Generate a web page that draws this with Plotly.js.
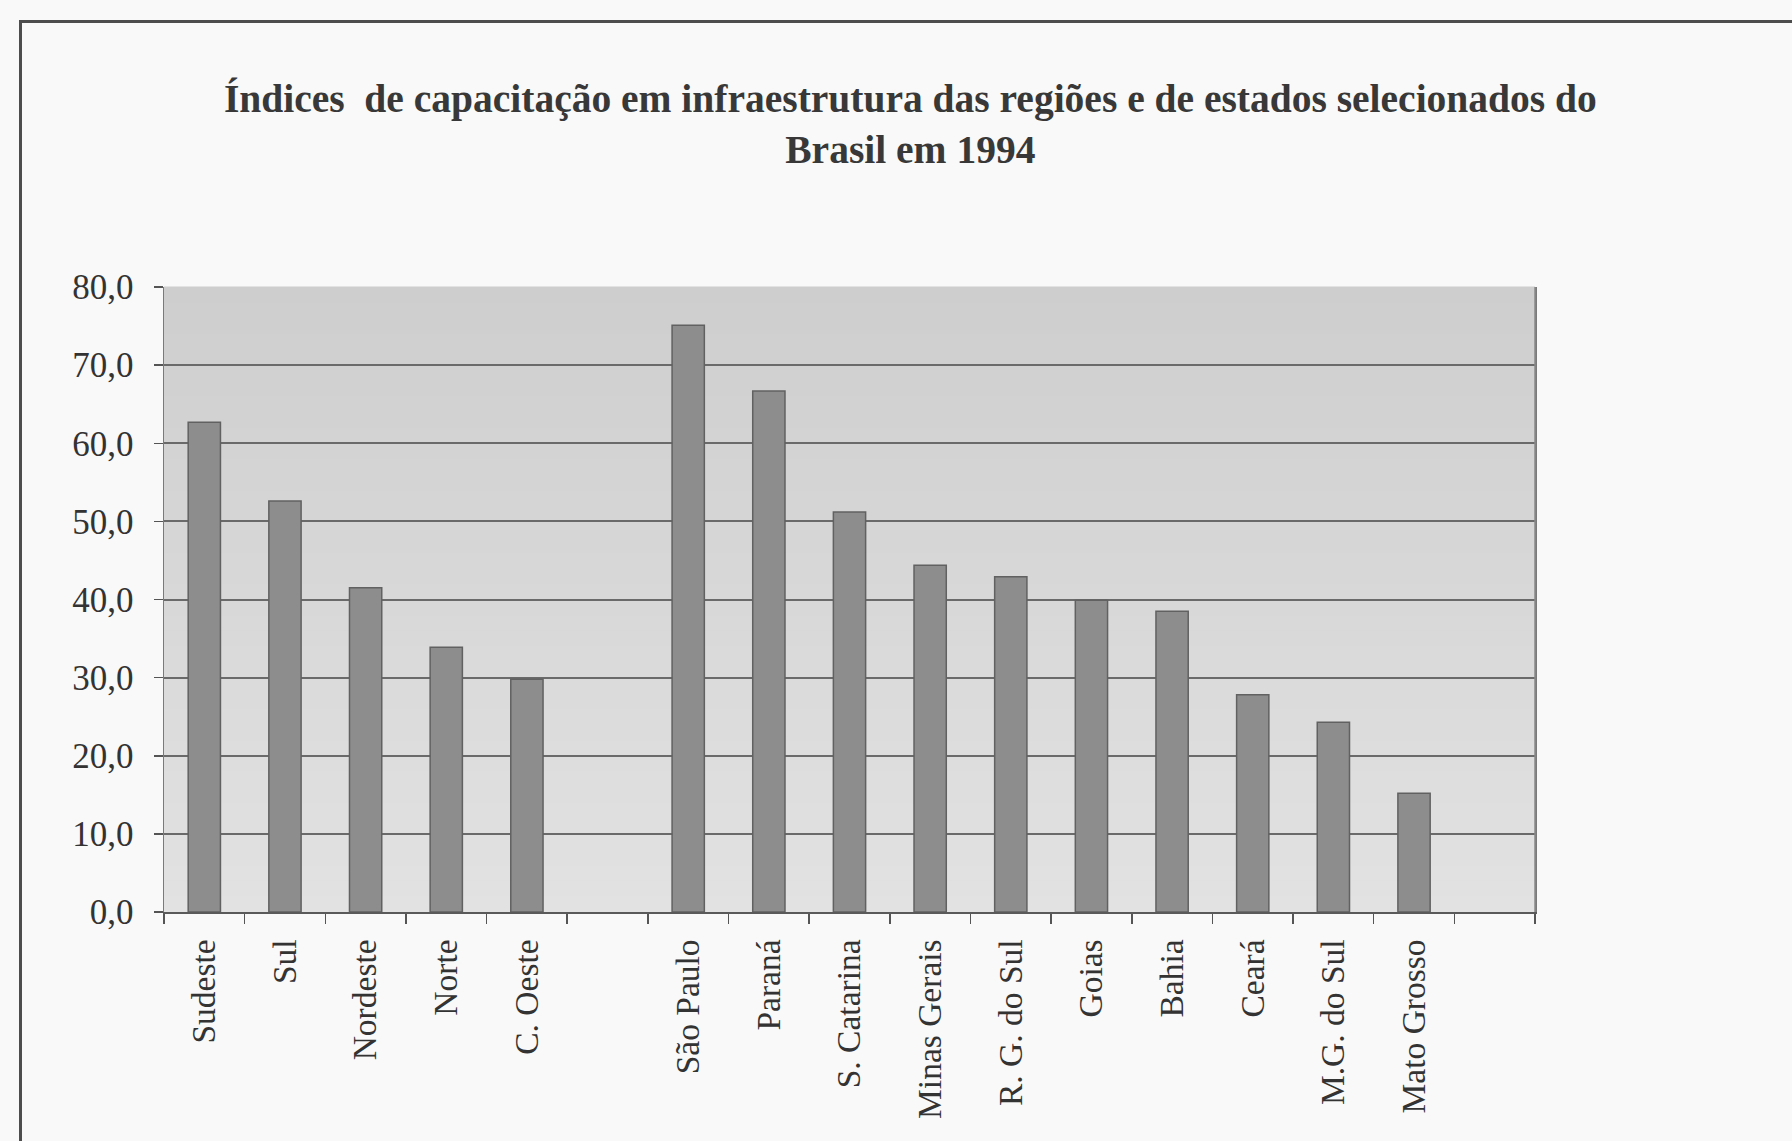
<!DOCTYPE html>
<html>
<head>
<meta charset="utf-8">
<script src="https://cdn.plot.ly/plotly-3.0.1.min.js"></script>
<style>
  html, body { margin: 0; padding: 0; background: #f9f9f9; }
  #frame {
    position: absolute; left: 19px; top: 20px; width: 1900px; height: 1300px;
    border-left: 3px solid #4d4d4d; border-top: 3px solid #4d4d4d;
  }
  #chart { position: absolute; left: 0; top: 0; width: 1792px; height: 1141px; }
</style>
</head>
<body>
<div id="frame"></div>
<div id="chart"></div>
<script>
// Índices de capacitação em infraestrutura, 1994
const regions = ['Sudeste', 'Sul', 'Nordeste', 'Norte', 'C. Oeste'];
const regionValues = [62.7, 52.6, 41.5, 33.9, 29.8];

const states = ['São Paulo', 'Paraná', 'S. Catarina', 'Minas Gerais', 'R. G. do Sul',
                'Goias', 'Bahia', 'Ceará', 'M.G. do Sul', 'Mato Grosso'];
const stateValues = [75.1, 66.7, 51.2, 44.4, 42.9, 39.9, 38.5, 27.8, 24.3, 15.2];

const yTicks = [0, 10, 20, 30, 40, 50, 60, 70, 80];

const titleText = 'Índices  de capacitação em infraestrutura das regiões e de estados selecionados do<br>Brasil em 1994';

// empty slot between the regions and the states, and one after the last state
const slots = regions.concat([' '], states, ['  ']);
const values = regionValues.concat([null], stateValues, [null]);

// vertical grey gradient behind the bars (darker at the top)
function mix(a, b, t) { return Math.round(a + (b - a) * t); }
const bands = [];
const nBands = 40;
for (let i = 0; i < nBands; i++) {
  const t = i / (nBands - 1);
  const c = mix(0xe2, 0xce, t);
  bands.push({
    type: 'rect', layer: 'below', xref: 'paper', yref: 'paper',
    x0: 0, x1: 1, y0: i / nBands, y1: (i + 1) / nBands + 0.001,
    fillcolor: 'rgb(' + c + ',' + c + ',' + c + ')', line: { width: 0 }
  });
}

const serif = 'Liberation Serif, Times New Roman, serif';

const trace = {
  type: 'bar',
  x: slots,
  y: values,
  marker: { color: '#8d8d8d', line: { color: '#616161', width: 1.5 } },
  hoverinfo: 'x+y'
};

const layout = {
  width: 1792, height: 1141,
  margin: { l: 164, r: 257, t: 287, b: 229 },
  paper_bgcolor: 'rgba(0,0,0,0)',
  plot_bgcolor: '#d8d8d8',
  separators: ',.',
  showlegend: false,
  bargap: 0.6,
  font: { family: serif, color: '#333333' },
  title: {
    text: titleText,
    font: { family: serif, size: 39.5, color: '#383838', weight: 'bold' },
    xref: 'container', yref: 'container',
    x: 0.508, xanchor: 'center',
    y: 1 - 112 / 1141, yanchor: 'top'
  },
  xaxis: {
    type: 'category',
    categoryorder: 'array', categoryarray: slots,
    range: [-0.5, slots.length - 0.5],
    tickangle: -90,
    tickson: 'boundaries',
    ticks: 'outside', ticklen: 10, tickwidth: 1.5, tickcolor: '#555555',
    ticklabelstandoff: 12,
    tickfont: { family: serif, size: 33.5, color: '#333333' },
    showline: true, linecolor: '#5a5a5a', linewidth: 2, mirror: false,
    showgrid: false, zeroline: false, fixedrange: true
  },
  yaxis: {
    range: [0, 80],
    tickvals: yTicks,
    tickformat: '.1f',
    ticks: 'outside', ticklen: 9, tickwidth: 1.5, tickcolor: '#555555',
    ticklabelstandoff: 13,
    tickfont: { family: serif, size: 35, color: '#333333' },
    showline: true, linecolor: '#7a7a7a', linewidth: 1.5, mirror: true,
    showgrid: true, gridcolor: '#6a6a6a', gridwidth: 2,
    zeroline: false, fixedrange: true
  },
  shapes: bands.concat([{
    type: 'line', xref: 'paper', yref: 'paper', x0: 1, x1: 1, y0: 0, y1: 1,
    line: { color: '#8a8a8a', width: 1.5 }
  }])
};

Plotly.newPlot('chart', [trace], layout, { displayModeBar: false, staticPlot: true });
</script>
</body>
</html>
